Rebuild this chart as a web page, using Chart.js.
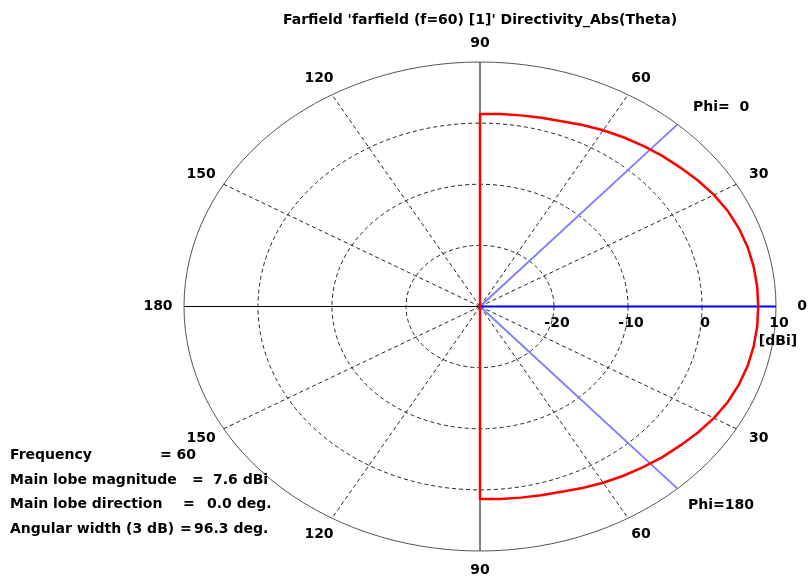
<!DOCTYPE html>
<html>
<head>
<meta charset="utf-8">
<title>Farfield Directivity_Abs(Theta)</title>
<script src="https://cdn.jsdelivr.net/npm/chart.js@4.4.1/dist/chart.umd.min.js"></script>
<style>
  html, body { margin: 0; padding: 0; background: #fff; }
  canvas { display: block; }
</style>
</head>
<body>
<canvas id="farfield" width="809" height="578"></canvas>
<script>
// theta samples in degrees, same for both phi cuts
const thetaDeg = [0, 5, 10, 15, 20, 25, 30, 35, 40, 45, 50, 55, 60, 65, 70, 75, 80, 85, 90,
  95, 100, 105, 110, 115, 120, 125, 130, 135, 140, 145, 150, 155, 160, 165, 170, 175, 180];

// directivity in dBi (back hemisphere sits at the plot floor)
const dirPhi0 = [7.6, 7.6, 7.55, 7.45, 7.25, 6.95, 6.5, 5.95, 5.35, 4.85, 4.3, 3.8, 3.3, 2.75, 2.25, 1.95, 1.75, 1.6, 1.5,
  -30, -30, -30, -30, -30, -30, -30, -30, -30, -30, -30, -30, -30, -30, -30, -30, -30, -30];
const dirPhi180 = [7.6, 7.6, 7.55, 7.45, 7.25, 6.95, 6.5, 5.95, 5.35, 4.85, 4.3, 3.8, 3.3, 2.75, 2.25, 1.95, 1.75, 1.6, 1.5,
  -30, -30, -30, -30, -30, -30, -30, -30, -30, -30, -30, -30, -30, -30, -30, -30, -30, -30];

const floorValue = -30;          // centre of the plot
const outerValue = 10;           // outer ring
const ringValues = [-20, -10, 0];  // dashed rings
const ringLabels = ['-20', '-10', '0', '10'];
const spokeAngles = [30, 60, 120, 150];
const upperAngleLabels = [0, 30, 60, 90, 120, 150, 180];
const lowerAngleLabels = [30, 60, 90, 120, 150];

const mainLobeDir = 0.0;
const angularWidth = 96.3;

const infoNames = ['Frequency', 'Main lobe magnitude', 'Main lobe direction', 'Angular width (3 dB)'];
const infoEquals = ['= 60', '=', '=', '='];
const infoValues = ['', '7.6 dBi', '0.0 deg.', '96.3 deg.'];

const titleText = "Farfield 'farfield (f=60) [1]' Directivity_Abs(Theta)";

// polar -> cartesian in dB-above-floor units
function polar(angleDeg, db) {
  const r = Math.max(db - floorValue, 0);
  const a = angleDeg * Math.PI / 180;
  return { x: r * Math.cos(a), y: r * Math.sin(a) };
}

// phi=0 goes from theta 0 up to 180 (upper half), phi=180 back from 180 to 0 (lower half)
const patternPoints = thetaDeg.map((t, i) => polar(t, dirPhi0[i]))
  .concat(thetaDeg.slice().reverse().map((t, i) => polar(-t, dirPhi180[thetaDeg.length - 1 - i])));

const halfWidth = angularWidth / 2;
const mainLobePoints = [polar(0, floorValue), polar(mainLobeDir, outerValue)];
const widthPoints = [polar(mainLobeDir + halfWidth, outerValue), polar(0, floorValue), polar(mainLobeDir - halfWidth, outerValue)];

const FONT = 'bold 14px "DejaVu Sans", Verdana, sans-serif';

const polarGrid = {
  id: 'polarGrid',
  beforeDatasetsDraw(chart) {
    const { ctx, scales: { x, y } } = chart;
    const cx = x.getPixelForValue(0);
    const cy = y.getPixelForValue(0);
    const rx = (v) => x.getPixelForValue(v - floorValue) - cx;
    const ry = (v) => cy - y.getPixelForValue(v - floorValue);
    const Rx = rx(outerValue), Ry = ry(outerValue);

    ctx.save();
    ctx.lineWidth = 1;
    ctx.strokeStyle = '#222';
    ctx.setLineDash([4, 3]);
    ringValues.forEach((v) => {
      ctx.beginPath();
      ctx.ellipse(cx, cy, rx(v), ry(v), 0, 0, 2 * Math.PI);
      ctx.stroke();
    });
    spokeAngles.forEach((a) => {
      [a, -a].forEach((ang) => {
        const t = ang * Math.PI / 180;
        ctx.beginPath();
        ctx.moveTo(cx, cy);
        ctx.lineTo(cx + Rx * Math.cos(t), cy - Ry * Math.sin(t));
        ctx.stroke();
      });
    });

    // solid axes
    ctx.setLineDash([]);
    ctx.strokeStyle = '#000';
    ctx.beginPath();
    ctx.moveTo(cx - Rx, cy);
    ctx.lineTo(cx + Rx, cy);
    ctx.moveTo(cx, cy - Ry);
    ctx.lineTo(cx, cy + Ry);
    ctx.stroke();

    // outer ring
    ctx.strokeStyle = '#555';
    ctx.beginPath();
    ctx.ellipse(cx, cy, Rx, Ry, 0, 0, 2 * Math.PI);
    ctx.stroke();
    ctx.restore();
  },
  afterDraw(chart) {
    const { ctx, scales: { x, y } } = chart;
    const cx = x.getPixelForValue(0);
    const cy = y.getPixelForValue(0);
    const Rx = x.getPixelForValue(outerValue - floorValue) - cx;
    const Ry = cy - y.getPixelForValue(outerValue - floorValue);

    ctx.save();
    ctx.font = FONT;
    ctx.fillStyle = '#000';
    ctx.textAlign = 'center';
    ctx.textBaseline = 'middle';

    ctx.fillText(titleText, cx, 20);

    // angle labels around the outside
    const lx = Rx + 26, ly = Ry + 19;
    upperAngleLabels.forEach((a) => {
      const t = a * Math.PI / 180;
      ctx.fillText(String(a), cx + lx * Math.cos(t), cy - ly * Math.sin(t));
    });
    lowerAngleLabels.forEach((a) => {
      const t = -a * Math.PI / 180;
      ctx.fillText(String(a), cx + lx * Math.cos(t), cy - ly * Math.sin(t));
    });

    // ring labels along the 0 axis
    ringValues.concat([outerValue]).forEach((v, i) => {
      ctx.fillText(ringLabels[i], x.getPixelForValue(v - floorValue) + 3, cy + 17);
    });
    ctx.fillText('[dBi]', cx + Rx + 2, cy + 35);

    // cut labels
    ctx.textAlign = 'left';
    ctx.fillText('Phi=  0', 693, 107);
    ctx.fillText('Phi=180', 688, 505);

    // info block
    const infoY = [455, 480, 504, 529];
    const eqX = [160, 192, 183, 180];
    const valX = [0, 213, 207, 194];
    infoNames.forEach((name, i) => {
      ctx.fillText(name, 10, infoY[i]);
      ctx.fillText(infoEquals[i], eqX[i], infoY[i]);
      if (infoValues[i]) ctx.fillText(infoValues[i], valX[i], infoY[i]);
    });
    ctx.restore();
  }
};

const span = outerValue - floorValue;

new Chart(document.getElementById('farfield'), {
  type: 'scatter',
  data: {
    datasets: [
      {
        label: 'Directivity',
        data: patternPoints,
        showLine: true,
        borderColor: '#ff0000',
        borderWidth: 2.5,
        pointRadius: 0,
        tension: 0,
        order: 0,
      },
      {
        label: 'Main lobe direction',
        data: mainLobePoints,
        showLine: true,
        borderColor: '#0000ff',
        borderWidth: 2,
        pointRadius: 0,
        order: 1,
      },
      {
        label: 'Angular width',
        data: widthPoints,
        showLine: true,
        borderColor: '#8080ff',
        borderWidth: 2,
        pointRadius: 0,
        order: 2,
      },
    ],
  },
  options: {
    responsive: false,
    animation: false,
    devicePixelRatio: 1,
    layout: { padding: { left: 184, right: 33, top: 62, bottom: 27 } },
    scales: {
      x: { type: 'linear', min: -span, max: span, display: false },
      y: { type: 'linear', min: -span, max: span, display: false },
    },
    plugins: {
      legend: { display: false },
      tooltip: { enabled: false },
    },
  },
  plugins: [polarGrid],
});
</script>
</body>
</html>
